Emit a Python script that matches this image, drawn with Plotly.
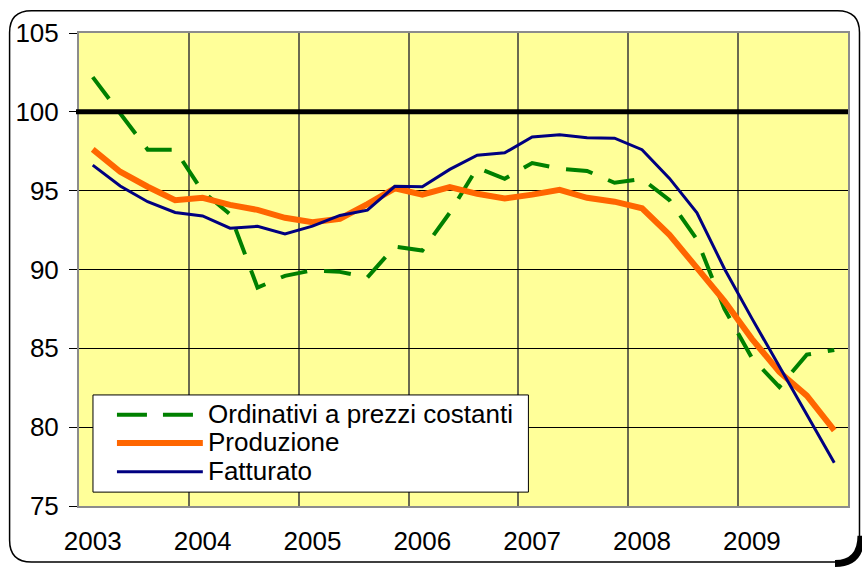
import plotly.graph_objects as go

years = [2003, 2004, 2005, 2006, 2007, 2008, 2009]
quarters_per_year = 4

names = ["Ordinativi a prezzi costanti", "Produzione", "Fatturato"]

ordinativi = [102.2, 99.95, 97.6, 97.6, 94.95, 93.5, 88.85, 89.6, 89.95, 89.85,
              89.5, 91.45, 91.2, 93.6, 96.45, 95.75, 96.75, 96.4, 96.25, 95.5,
              95.75, 94.4, 91.9, 87.5, 84.4, 82.55, 84.6, 84.9]
produzione = [97.62, 96.2, 95.25, 94.4, 94.55, 94.1, 93.78, 93.28, 93.0, 93.22,
              94.15, 95.15, 94.75, 95.23, 94.8, 94.5, 94.75, 95.05, 94.55, 94.3,
              93.88, 92.2, 90.1, 88.0, 85.6, 83.5, 82.0, 79.8]
fatturato = [96.62, 95.3, 94.3, 93.62, 93.4, 92.62, 92.74, 92.25, 92.75, 93.43,
             93.76, 95.28, 95.25, 96.35, 97.25, 97.4, 98.4, 98.55, 98.35, 98.33,
             97.6, 95.78, 93.6, 90.05, 86.9, 83.85, 80.75, 77.75]
reference_level = 100

colors = ["#008000", "#FF6600", "#000080"]
widths = [4, 6, 3]
dashes = ["27px,17px", "solid", "solid"]
legend_dashes = ["30px,16px", "solid", "solid"]

x = [y + (q + 0.5) / quarters_per_year for y in years for q in range(quarters_per_year)]

fig = go.Figure()
for name, vals, c, w, d in zip(names, [ordinativi, produzione, fatturato], colors, widths, dashes):
    fig.add_trace(go.Scatter(x=x, y=vals, name=name, mode="lines", showlegend=False,
                             hoverinfo="skip", line=dict(color=c, width=w, dash=d)))

W, H = 862, 568
L, R, T, B = 79, 13, 33, 58
pw, ph = W - L - R, H - T - B

def P2(px, py):
    return (px - L) / pw, (H - B - py) / ph

def P(px, py):
    a, b = P2(px, py)
    return f"{a:.5f},{b:.5f}"

fig.add_shape(type="line", xref="paper", yref="y", x0=P2(76, 0)[0], x1=1.0,
              y0=reference_level, y1=reference_level, line=dict(color="black", width=5))

# rounded outer frame
x0p, x1p, y0p, y1p, r = 9.5, 860.5, 10.5, 566.5, 22
path = (f"M {P(x0p + r, y0p)} L {P(x1p - r, y0p)} Q {P(x1p, y0p)} {P(x1p, y0p + r)} "
        f"L {P(x1p, y1p - r)} Q {P(x1p, y1p)} {P(x1p - r, y1p)} "
        f"L {P(x0p + r, y1p)} Q {P(x0p, y1p)} {P(x0p, y1p - r)} "
        f"L {P(x0p, y0p + r)} Q {P(x0p, y0p)} {P(x0p + r, y0p)} Z")
fig.add_shape(type="path", xref="paper", yref="paper", path=path,
              line=dict(color="black", width=1.5), layer="below")
shadow = f"M {P(862, 540)} Q {P(862, 568)} {P(836, 568)}"
fig.add_shape(type="path", xref="paper", yref="paper", path=shadow,
              line=dict(color="black", width=7))

font = "Liberation Sans, Arial, sans-serif"
fs = 26

# manual legend
bx0, by0 = P2(93, 398)
bx1, by1 = P2(529, 496)
fig.add_shape(type="rect", xref="paper", yref="paper", x0=bx0, x1=bx1, y0=by1, y1=by0,
              fillcolor="white", line=dict(color="black", width=1), layer="above")
entry_y = [418, 446.5, 475.5]
for name, c, w, d, ey in zip(names, colors, widths, legend_dashes, entry_y):
    sx0, sy = P2(117, ey)
    sx1, _ = P2(203, ey)
    fig.add_shape(type="line", xref="paper", yref="paper", x0=sx0, x1=sx1, y0=sy, y1=sy,
                  line=dict(color=c, width=w, dash=d), layer="above")
    tx, ty = P2(206, ey - 1)
    fig.add_annotation(xref="paper", yref="paper", x=tx, y=ty, text=name, showarrow=False,
                       xanchor="left", yanchor="middle",
                       font=dict(family=font, size=fs, color="black"))

fig.update_layout(
    width=W, height=H,
    margin=dict(l=L, r=R, t=T, b=B),
    paper_bgcolor="white", plot_bgcolor="#FFFF99",
    font=dict(family=font, size=fs, color="black"),
    showlegend=False,
    xaxis=dict(range=[2003, 2010], tickvals=[y + 0.125 for y in years],
               ticktext=[str(y) for y in years], ticks="", showgrid=False,
               showline=True, linecolor="#8C8C8C", linewidth=2, mirror=True,
               zeroline=False, ticklabelstandoff=11,
               minor=dict(tickmode="array", tickvals=years[1:], showgrid=True,
                          gridcolor="#6A6A50", gridwidth=2, ticks="")),
    yaxis=dict(range=[75, 105], dtick=5, showgrid=True, gridcolor="black", gridwidth=1,
               ticks="outside", ticklen=8, tickcolor="black", tickwidth=1,
               showline=True, linecolor="#8C8C8C", linewidth=2, mirror=True,
               zeroline=False, ticklabelstandoff=5),
)

fig.write_html("out.html", config={"displayModeBar": False},
               post_script="document.body.style.margin='0';document.body.style.overflow='hidden';")
